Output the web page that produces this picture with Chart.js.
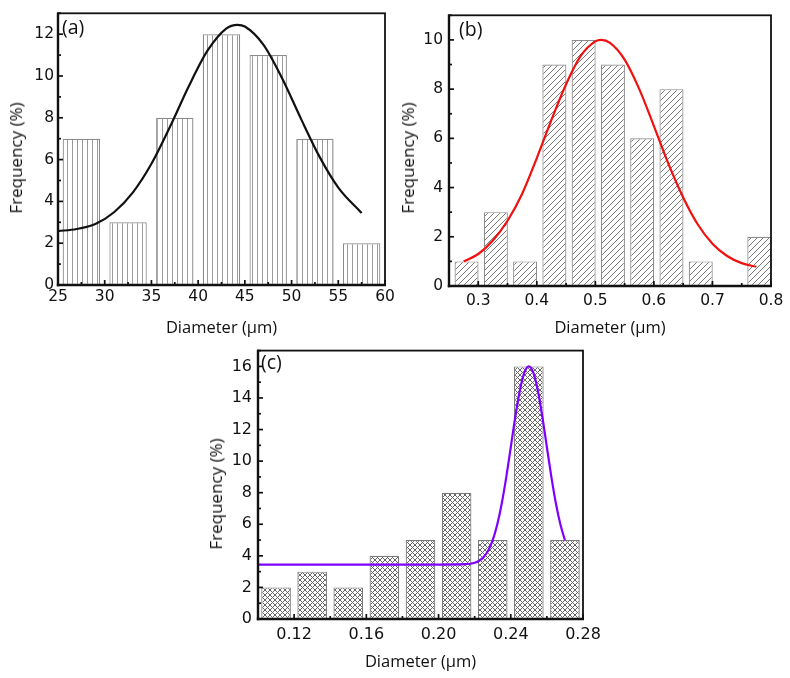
<!DOCTYPE html>
<html><head><meta charset="utf-8">
<script src="https://cdn.jsdelivr.net/npm/chart.js@4.4.1/dist/chart.umd.min.js"></script>
<style>
html,body{margin:0;padding:0;background:#fff;}
body{width:790px;height:678px;position:relative;overflow:hidden;}
canvas{position:absolute;}
.lbl{position:absolute;font-family:"Open Sans";font-size:19.5px;line-height:20px;color:#111;white-space:nowrap;}
.ytl{position:absolute;font-family:"Open Sans";font-size:17px;line-height:18px;color:#111;white-space:nowrap;transform:translate(-50%,-50%) rotate(-90deg);}
</style></head><body>
<canvas id="ca" width="405" height="345" style="left:0;top:0"></canvas>
<canvas id="cb" width="395" height="345" style="left:395px;top:0"></canvas>
<canvas id="cc" width="425" height="343" style="left:195px;top:335px"></canvas>
<div class="lbl" style="left:62px;top:17px">(a)</div>
<div class="lbl" style="left:459px;top:19px">(b)</div>
<div class="lbl" style="left:261px;top:352px">(c)</div>
<div class="ytl" style="left:16px;top:158px">Frequency (%)</div>
<div class="ytl" style="left:408px;top:158px">Frequency (%)</div>
<div class="ytl" style="left:216px;top:494px">Frequency (%)</div>
<script>
// ---------- data (a) ----------
const aCenters = [27.5, 32.5, 37.5, 42.5, 47.5, 52.5, 57.5];
const aFreq = [7, 3, 8, 12, 11, 7, 2];
const aFitX = [25, 27, 29, 31, 33, 35, 37, 39, 41, 43, 44.2, 45, 47, 49, 51, 53, 55, 57.5];
const aFitY = [2.58, 2.68, 2.92, 3.48, 4.42, 5.8, 7.58, 9.51, 11.21, 12.27, 12.45, 12.37, 11.49, 9.88, 7.96, 6.13, 4.66, 3.44];
const aXTicks = [25, 30, 35, 40, 45, 50, 55, 60];
const aYTicks = [0, 2, 4, 6, 8, 10, 12];
// ---------- data (b) ----------
const bCenters = [0.28, 0.33, 0.38, 0.43, 0.48, 0.53, 0.58, 0.63, 0.68, 0.73, 0.78];
const bFreq = [1, 3, 1, 9, 10, 9, 6, 8, 1, 0, 2];
const bFitX = [0.275, 0.30, 0.325, 0.35, 0.375, 0.40, 0.425, 0.45, 0.475, 0.50, 0.51, 0.525, 0.55, 0.575, 0.60, 0.625, 0.65, 0.675, 0.70, 0.725, 0.75, 0.775];
const bFitY = [1.0, 1.3, 1.85, 2.65, 3.75, 5.2, 6.75, 8.2, 9.35, 9.94, 10.0, 9.88, 9.2, 8.0, 6.5, 4.95, 3.6, 2.5, 1.72, 1.22, 0.93, 0.78];
const bXTicks = [0.3, 0.4, 0.5, 0.6, 0.7, 0.8];
const bYTicks = [0, 2, 4, 6, 8, 10];
// ---------- data (c) ----------
const cCenters = [0.11, 0.13, 0.15, 0.17, 0.19, 0.21, 0.23, 0.25, 0.27];
const cFreq = [2, 3, 2, 4, 5, 8, 5, 16, 5];
const cFitX = [0.10, 0.15, 0.20, 0.215, 0.2175, 0.22, 0.2225, 0.225, 0.2275, 0.23, 0.2325, 0.235, 0.2375, 0.24, 0.2425, 0.245, 0.2475, 0.25, 0.2525, 0.255, 0.2575, 0.26, 0.2625, 0.265, 0.2675, 0.27];
const cFitY = [3.45, 3.45, 3.45, 3.47, 3.50, 3.56, 3.69, 3.93, 4.34, 4.99, 5.98, 7.32, 8.99, 10.88, 12.8, 14.46, 15.6, 16.0, 15.6, 14.46, 12.8, 10.88, 8.99, 7.32, 5.98, 4.99];
const cXTicks = [0.12, 0.16, 0.20, 0.24, 0.28];
const cYTicks = [0, 2, 4, 6, 8, 10, 12, 14, 16];

function midpoints(arr, lo, hi) {
  const out = [];
  const step = arr[1] - arr[0];
  const first = arr[0] - step / 2;
  for (let v = first; v <= hi + 1e-9; v += step) if (v >= lo - 1e-9) out.push(v);
  return out;
}

function makePattern(canvas, kind) {
  const c = document.createElement('canvas');
  const s = kind === 'v' ? 5 : (kind === 'd' ? 6 : 5);
  c.width = s; c.height = s;
  const g = c.getContext('2d');
  g.fillStyle = '#fff'; g.fillRect(0, 0, s, s);
  if (kind === 'v') {
    g.fillStyle = '#9a9a9a'; g.fillRect(2, 0, 1, s);
  } else {
    g.lineWidth = 1;
    g.strokeStyle = kind === 'd' ? '#7a7a7a' : '#666';
    const diag = (flip) => {
      for (let k = -1; k <= 1; k++) {
        g.beginPath();
        if (!flip) { g.moveTo(k * s - 1, s + 1); g.lineTo(k * s + s + 1, -1); }
        else { g.moveTo(k * s - 1, -1); g.lineTo(k * s + s + 1, s + 1); }
        g.stroke();
      }
    };
    diag(false);
    if (kind === 'x') diag(true);
  }
  return canvas.getContext('2d').createPattern(c, 'repeat');
}

const framePlugin = {
  id: 'frame',
  afterDatasetsDraw(chart, args, opts) {
    const { ctx, chartArea: a, scales: { x, y } } = chart;
    ctx.save();
    ctx.strokeStyle = '#111';
    ctx.lineWidth = 1.7;
    const line = (x1, y1, x2, y2) => { ctx.beginPath(); ctx.moveTo(x1, y1); ctx.lineTo(x2, y2); ctx.stroke(); };
    opts.xMajor.forEach(v => { const p = x.getPixelForValue(v); line(p, a.bottom + 1, p, a.bottom - 5); });
    opts.xMinor.forEach(v => { const p = x.getPixelForValue(v); line(p, a.bottom, p, a.bottom - 3); });
    opts.yMajor.forEach(v => { const p = y.getPixelForValue(v); line(a.left - 1, p, a.left + 5, p); });
    opts.yMinor.forEach(v => { const p = y.getPixelForValue(v); line(a.left, p, a.left + 3, p); });
    ctx.lineWidth = 1.8;
    ctx.strokeRect(a.left, a.top, a.right - a.left, a.bottom - a.top);
    ctx.lineWidth = 2.4;
    line(a.left, a.top - 0.9, a.left, a.bottom + 1.2);
    line(a.left - 1.2, a.bottom, a.right + 0.9, a.bottom);
    ctx.restore();
  }
};

function makeChart(id, cfg) {
  const canvas = document.getElementById(id);
  const tickFont = { family: 'DejaVu Sans', size: cfg.tickSize };
  return new Chart(canvas, {
    type: 'bar',
    data: {
      datasets: [
        {
          type: 'line',
          data: cfg.fitX.map((v, i) => ({ x: v, y: cfg.fitY[i] })),
          borderColor: cfg.lineColor, borderWidth: 2.2, pointRadius: 0,
          cubicInterpolationMode: 'monotone', fill: false, order: 0
        },
        {
          type: 'bar',
          data: cfg.centers.map((v, i) => ({ x: v, y: cfg.freq[i] })),
          backgroundColor: makePattern(canvas, cfg.kind),
          borderColor: cfg.barBorder, borderWidth: 1.2, borderSkipped: false,
          barPercentage: cfg.barPct, categoryPercentage: 1, order: 1
        }
      ]
    },
    options: {
      responsive: false, animation: false, events: [],
      layout: { padding: cfg.pad },
      plugins: {
        legend: { display: false }, tooltip: { enabled: false },
        frame: {
          xMajor: cfg.xTicks, xMinor: midpoints(cfg.xTicks, cfg.xMin, cfg.xMax),
          yMajor: cfg.yTicks, yMinor: midpoints(cfg.yTicks, 0, cfg.yMax)
        }
      },
      scales: {
        x: {
          type: 'linear', min: cfg.xMin, max: cfg.xMax, offset: false,
          grid: { display: false, drawTicks: false }, border: { display: false },
          ticks: { font: tickFont, color: '#111', padding: cfg.xPad, autoSkip: false, maxRotation: 0,
                   callback: v => v.toFixed(cfg.xDec) },
          title: { display: true, text: 'Diameter (\u03bcm)', color: '#111',
                   font: { family: 'Open Sans', size: 16.5 }, padding: { top: 0, bottom: cfg.titlePad } },
          afterBuildTicks: s => { s.ticks = cfg.xTicks.map(v => ({ value: v })); },
          afterFit: s => { s.height = cfg.xH; }
        },
        y: {
          type: 'linear', min: 0, max: cfg.yMax,
          grid: { display: false, drawTicks: false }, border: { display: false },
          ticks: { font: tickFont, color: '#111', padding: cfg.yPad, autoSkip: false,
                   callback: v => String(v) },
          afterBuildTicks: s => { s.ticks = cfg.yTicks.map(v => ({ value: v })); },
          afterFit: s => { s.width = cfg.yW; }
        }
      }
    },
    plugins: [framePlugin]
  });
}

makeChart('ca', {
  centers: aCenters, freq: aFreq, fitX: aFitX, fitY: aFitY, xTicks: aXTicks, yTicks: aYTicks,
  xMin: 25, xMax: 60, yMax: 13, xDec: 0, kind: 'v', lineColor: '#111', barBorder: '#8c8c8c', barPct: 0.8,
  pad: { left: 0, top: 8, right: 20, bottom: 0 }, yW: 58, xH: 60, tickSize: 15.5, xPad: 3, yPad: 4, titlePad: 7
});
makeChart('cb', {
  centers: bCenters, freq: bFreq, fitX: bFitX, fitY: bFitY, xTicks: bXTicks, yTicks: bYTicks,
  xMin: 0.25, xMax: 0.8, yMax: 11, xDec: 1, kind: 'd', lineColor: '#f01010', barBorder: '#8c8c8c', barPct: 0.82,
  pad: { left: 0, top: 12, right: 19, bottom: 0 }, yW: 54, xH: 59, tickSize: 15.5, xPad: 5.5, yPad: 6, titlePad: 7
});
makeChart('cc', {
  centers: cCenters, freq: cFreq, fitX: cFitX, fitY: cFitY, xTicks: cXTicks, yTicks: cYTicks,
  xMin: 0.10, xMax: 0.28, yMax: 17, xDec: 2, kind: 'x', lineColor: '#8000ff', barBorder: '#7a7a7a', barPct: 0.82,
  pad: { left: 0, top: 10, right: 37, bottom: 0 }, yW: 63, xH: 59, tickSize: 16, xPad: 6, yPad: 6, titlePad: 6
});
</script>
</body></html>
